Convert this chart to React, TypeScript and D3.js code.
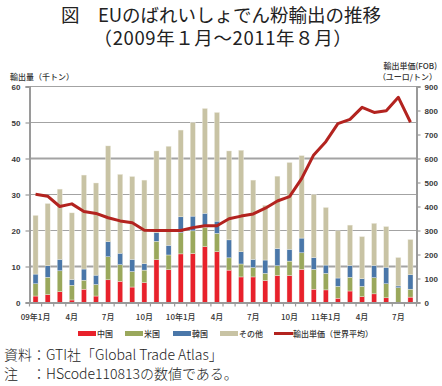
import React, { useEffect, useRef } from 'react'
import * as d3 from 'd3'

const months = [
  '09-01', '09-02', '09-03', '09-04', '09-05', '09-06', '09-07', '09-08', '09-09', '09-10', '09-11', '09-12',
  '10-01', '10-02', '10-03', '10-04', '10-05', '10-06', '10-07', '10-08', '10-09', '10-10', '10-11', '10-12',
  '11-01', '11-02', '11-03', '11-04', '11-05', '11-06', '11-07', '11-08'
]
const tickLabels = ['09年1月', '4月', '7月', '10月', '10年1月', '4月', '7月', '10月', '11年1月', '4月', '7月']

// thousand tonnes
const china = [1.8, 2.2, 3.0, 0.7, 3.7, 1.8, 6.3, 5.9, 4.3, 5.5, 11.9, 9.1, 13.5, 13.6, 15.5, 14.1, 9.0, 7.1, 7.1, 6.1, 7.5, 7.5, 9.2, 3.7, 3.5, 1.2, 3.2, 1.6, 2.4, 1.3, 0.0, 1.5]
const usa = [3.4, 4.8, 5.8, 4.1, 2.5, 3.2, 6.4, 4.6, 4.3, 3.5, 5.1, 4.1, 5.9, 6.3, 5.4, 5.1, 3.4, 3.6, 2.6, 2.0, 2.7, 4.0, 4.6, 5.5, 4.6, 3.3, 3.8, 2.9, 4.5, 3.9, 4.1, 2.2]
const korea = [2.7, 3.2, 3.2, 1.6, 3.1, 2.6, 4.2, 3.2, 3.4, 1.8, 2.4, 2.7, 4.4, 4.1, 3.9, 3.4, 5.0, 3.4, 2.3, 3.7, 4.8, 3.3, 4.1, 3.3, 2.3, 2.3, 3.3, 2.1, 3.4, 4.6, 0.5, 4.0]
const others = [16.3, 17.3, 19.5, 18.5, 26.1, 25.6, 26.6, 21.9, 23.0, 23.2, 22.7, 27.5, 24.1, 26.0, 29.1, 30.2, 24.7, 28.2, 22.0, 15.2, 20.1, 24.1, 22.9, 17.5, 16.0, 13.1, 11.2, 11.7, 11.7, 11.3, 7.9, 9.8]
// euro / tonne
const price = [451, 443, 400, 411, 379, 371, 353, 340, 332, 301, 300, 300, 300, 312, 320, 320, 349, 360, 369, 393, 423, 441, 516, 615, 670, 745, 763, 813, 792, 799, 855, 751]

const seriesNames = ['中国', '米国', '韓国', 'その他']
const colors = ['#e8212b', '#9aa85c', '#4a77a9', '#c8c3a4']
const lineColor = '#b3231f'
const font = '"Noto Sans CJK JP", "Noto Sans", sans-serif'
const numFont = '"Liberation Sans", Arial, sans-serif'

export default function App () {
  const ref = useRef<SVGSVGElement>(null)

  useEffect(() => {
    const svg = d3.select(ref.current)
    svg.selectAll('*').remove()
    const left = 29.5
    const right = 416.5
    const top = 86.5
    const bottom = 302.5

    const x = d3.scaleBand().domain(months).range([left, right]).paddingInner(0.58).paddingOuter(0.29)
    const y = d3.scaleLinear().domain([0, 60]).range([bottom, top])
    const y2 = d3.scaleLinear().domain([0, 900]).range([bottom, top])

    const rows = months.map((m, i) => ({ m, s0: china[i], s1: usa[i], s2: korea[i], s3: others[i] }))
    const stacked = d3.stack<any>().keys(['s0', 's1', 's2', 's3'])(rows)

    // two-line title as one text element
    const title = svg.append('text').attr('font-family', font).attr('font-size', 18.5)
      .attr('text-anchor', 'middle').attr('fill', '#222')
    title.append('tspan').attr('x', 221).attr('y', 21.5).text('図　EUのばれいしょでん粉輸出の推移')
    title.append('tspan').attr('x', 223).attr('y', 44.5).attr('letter-spacing', 0.6).text('（2009年１月～2011年８月）')

    const small = svg.append('g').attr('font-family', font).attr('font-size', 8).attr('font-weight', 500).attr('fill', '#333')
    small.append('text').attr('x', 10).attr('y', 79.5).text('輸出量（千トン）')
    small.append('text').attr('x', 437).attr('y', 69).attr('text-anchor', 'end').text('輸出単価(FOB)')
    small.append('text').attr('x', 437).attr('y', 79.5).attr('text-anchor', 'end').text('（ユーロ/トン）')

    // grid
    svg.append('g').selectAll('line').data(d3.range(10, 61, 10)).join('line')
      .attr('x1', left).attr('x2', right)
      .attr('y1', d => y(d)).attr('y2', d => y(d))
      .attr('stroke', '#a3a3a3')
      .attr('stroke-width', d => (d === 10 || d === 40) ? 2 : 1.2)

    // bars
    svg.append('g').selectAll('g').data(stacked).join('g')
      .attr('fill', (d, i) => colors[i])
      .selectAll('rect').data(d => d).join('rect')
      .attr('x', d => x(d.data.m)!)
      .attr('width', x.bandwidth())
      .attr('y', d => y(d[1]))
      .attr('height', d => Math.max(0, y(d[0]) - y(d[1])))
      .attr('stroke', '#f3f1e8')
      .attr('stroke-width', 0.4)

    // axes
    const axisColor = '#9a9a9a'
    const gl = svg.append('g').attr('transform', `translate(${left},0)`)
      .call(d3.axisLeft(y).tickValues(d3.range(0, 61, 10)).tickSize(4).tickPadding(5))
    const gr = svg.append('g').attr('transform', `translate(${right},0)`)
      .call(d3.axisRight(y2).tickValues(d3.range(0, 901, 100)).tickSize(4).tickPadding(4))
    const gb = svg.append('g').attr('transform', `translate(0,${bottom})`)
      .call(d3.axisBottom(x).tickSize(0).tickFormat(() => ''))
    for (const g of [gl, gr, gb]) {
      g.select('.domain').attr('stroke', axisColor).attr('stroke-width', 2)
      g.selectAll('.tick line').attr('stroke', axisColor).attr('stroke-width', 1.2)
      g.selectAll('text').attr('font-family', numFont).attr('font-size', 8).attr('font-weight', 700).attr('fill', '#3a3a3a')
    }
    // category separators on x axis
    gb.selectAll('line.sep').data(d3.range(months.length + 1)).join('line').attr('class', 'sep')
      .attr('x1', i => left + i * x.step()).attr('x2', i => left + i * x.step())
      .attr('y1', 0).attr('y2', 4).attr('stroke', axisColor).attr('stroke-width', 1.2)
    gb.selectAll('text.lab').data(tickLabels).join('text').attr('class', 'lab')
      .attr('x', (d, i) => x(months[i * 3])! + x.bandwidth() / 2)
      .attr('y', 17).attr('text-anchor', 'middle')
      .attr('font-family', font).attr('font-size', 8).attr('font-weight', 500).attr('fill', '#333')
      .text(d => d)

    // price line
    const line = d3.line<number>()
      .x((d, i) => x(months[i])! + x.bandwidth() / 2)
      .y(d => y2(d))
    svg.append('path').datum(price)
      .attr('d', line)
      .attr('fill', 'none').attr('stroke', lineColor).attr('stroke-width', 3).attr('stroke-linejoin', 'round')

    // legend
    const legendX = [78, 125, 173, 220]
    const lg = svg.append('g').attr('font-family', font).attr('font-size', 8).attr('font-weight', 500).attr('fill', '#333')
    seriesNames.forEach((name, i) => {
      lg.append('rect').attr('x', legendX[i]).attr('y', 331).attr('width', 18).attr('height', 5).attr('fill', colors[i])
      lg.append('text').attr('x', legendX[i] + 19).attr('y', 337).text(name)
    })
    lg.append('line').attr('x1', 274).attr('x2', 293).attr('y1', 333.5).attr('y2', 333.5).attr('stroke', lineColor).attr('stroke-width', 3)
    lg.append('text').attr('x', 293).attr('y', 337).text('輸出単価（世界平均）')

    // notes
    const notes = svg.append('g').attr('font-family', font).attr('font-size', 14).attr('font-weight', 300).attr('fill', '#222')
    notes.append('text').attr('x', 4).attr('y', 360).text('資料：GTI社「Global Trade Atlas」')
    notes.append('text').attr('x', 4).attr('y', 379).text('注　：HScode110813の数値である。')
  }, [])

  return <svg ref={ref} width={442} height={386} viewBox="0 0 442 386"
    style={{ position: 'absolute', left: 0, top: 0, background: '#fff' }} />
}
